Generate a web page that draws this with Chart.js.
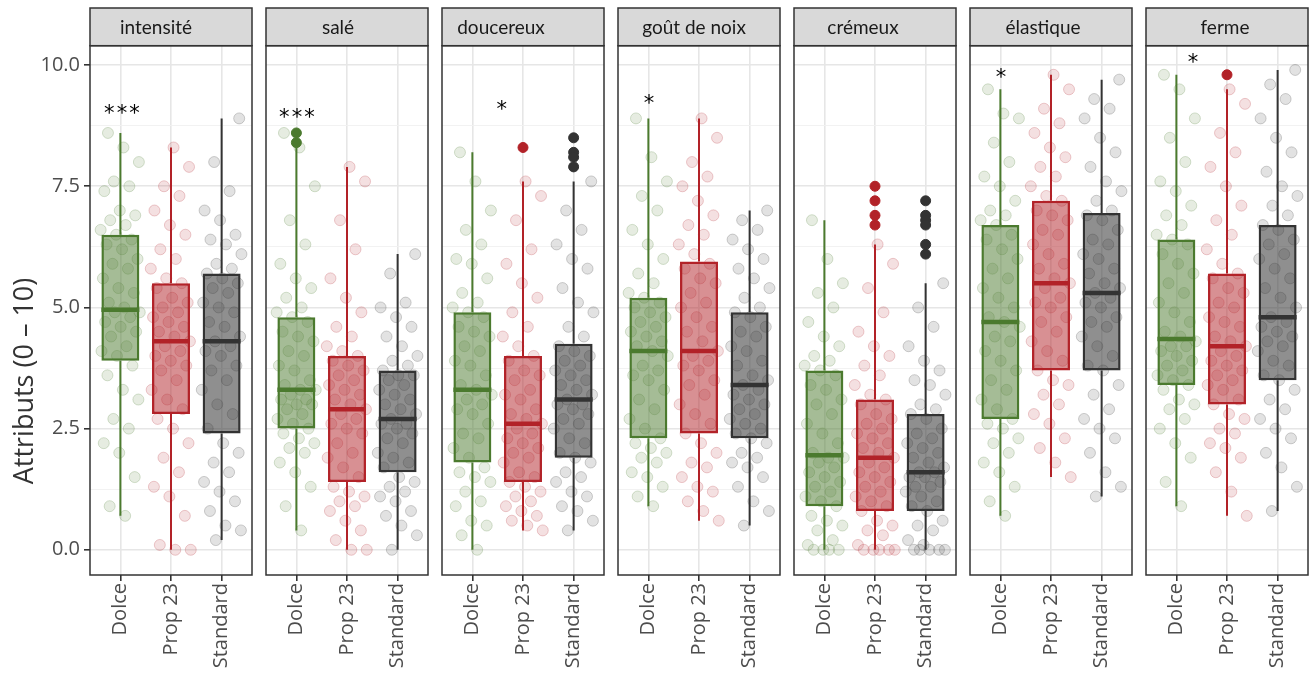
<!DOCTYPE html>
<html lang="fr">
<head>
<meta charset="utf-8">
<title>Attributs sensoriels par produit</title>
<script src="https://cdn.jsdelivr.net/npm/chart.js@4.4.1/dist/chart.umd.min.js"></script>
<style>
  html, body { margin: 0; padding: 0; background: #ffffff; }
  #board { position: relative; width: 1311px; height: 680px; overflow: hidden; background: #ffffff; }
  #board canvas { position: absolute; top: 0; }
</style>
</head>
<body>
<div id="board"></div>
<script>
// ---- data ---------------------------------------------------------------
const attributes = ['intensité', 'salé', 'doucereux', 'goût de noix', 'crémeux', 'élastique', 'ferme'];
const products = ['Dolce', 'Prop 23', 'Standard'];
const yBreaks = [0, 2.5, 5, 7.5, 10];
const yTitle = 'Attributs (0 – 10)';
const significance = ['***', '***', '*', '*', '', '*', '*'];

// box statistics, one row per attribute, one column per product
const lowerWhisker  = [[0.7, 0.0, 0.2], [0.4, 0.0, 0.0], [0.0, 0.4, 0.4], [0.9, 0.6, 0.5], [0.0, 0.0, 0.0], [0.7, 1.5, 1.1], [0.9, 0.7, 0.8]];
const firstQuartile = [[3.9, 2.8, 2.4], [2.5, 1.4, 1.6], [1.8, 1.4, 1.9], [2.3, 2.4, 2.3], [0.9, 0.8, 0.8], [2.7, 3.7, 3.7], [3.4, 3.0, 3.5]];
const medians       = [[4.95, 4.3, 4.3], [3.3, 2.9, 2.7], [3.3, 2.6, 3.1], [4.1, 4.1, 3.4], [1.95, 1.9, 1.6], [4.7, 5.5, 5.3], [4.35, 4.2, 4.8]];
const thirdQuartile = [[6.5, 5.5, 5.7], [4.8, 4.0, 3.7], [4.9, 4.0, 4.25], [5.2, 5.95, 4.9], [3.7, 3.1, 2.8], [6.7, 7.2, 6.95], [6.4, 5.7, 6.7]];
const upperWhisker  = [[8.6, 8.3, 8.9], [8.3, 7.9, 6.1], [8.2, 7.6, 7.6], [8.9, 8.9, 7.0], [6.8, 6.3, 5.5], [9.5, 9.8, 9.7], [9.8, 9.5, 9.9]];
const outliers = [
  [[], [], []],
  [[8.6, 8.4], [], []],
  [[], [8.3], [8.5, 8.2, 8.1, 7.9]],
  [[], [], []],
  [[], [7.5, 7.2, 6.9, 6.7], [7.2, 6.9, 6.8, 6.7, 6.3, 6.1]],
  [[], [], []],
  [[], [9.8], []]
];

// individual panel scores (Dolce, Prop 23, Standard)
const intensiteScores = [
  [0.7, 0.9, 1.5, 2.0, 2.2, 2.5, 2.7, 3.1, 3.3, 3.6, 3.8, 4.0, 4.1, 4.2, 4.4, 4.5, 4.6, 4.7, 4.8, 4.9, 4.9, 5.0,
   5.1, 5.3, 5.4, 5.6, 5.8, 5.9, 6.0, 6.2, 6.3, 6.4, 6.5, 6.6, 6.7, 6.8, 6.9, 7.0, 7.4, 7.5, 7.6, 8.0, 8.3, 8.6],
  [0.0, 0.0, 0.1, 0.7, 1.1, 1.3, 1.6, 1.9, 2.2, 2.5, 2.7, 2.9, 3.1, 3.3, 3.5, 3.7, 3.8, 3.9, 4.0, 4.1, 4.2, 4.3,
   4.4, 4.5, 4.6, 4.7, 4.8, 4.9, 5.0, 5.1, 5.2, 5.4, 5.5, 5.6, 5.8, 6.0, 6.2, 6.5, 6.7, 7.0, 7.3, 7.5, 7.9, 8.3],
  [0.2, 0.4, 0.5, 0.8, 1.0, 1.2, 1.4, 1.6, 1.8, 2.0, 2.2, 2.5, 2.8, 3.0, 3.3, 3.5, 3.7, 3.8, 4.0, 4.1, 4.2, 4.3,
   4.4, 4.6, 4.7, 4.9, 5.0, 5.1, 5.3, 5.4, 5.5, 5.6, 5.7, 5.8, 5.9, 6.1, 6.3, 6.4, 6.5, 6.8, 7.0, 7.4, 8.0, 8.9]
];
const saleScores = [
  [0.4, 0.9, 1.3, 1.6, 1.8, 2.0, 2.1, 2.2, 2.3, 2.4, 2.5, 2.6, 2.7, 2.8, 2.9, 3.0, 3.0, 3.1, 3.1, 3.2, 3.3, 3.3,
   3.4, 3.5, 3.7, 3.8, 4.0, 4.1, 4.3, 4.4, 4.5, 4.7, 4.8, 4.9, 5.0, 5.2, 5.4, 5.6, 5.9, 6.3, 6.8, 7.5, 8.3, 8.6],
  [0.0, 0.0, 0.2, 0.4, 0.6, 0.8, 0.9, 1.0, 1.1, 1.2, 1.3, 1.5, 1.7, 1.9, 2.0, 2.2, 2.4, 2.5, 2.6, 2.7, 2.8, 2.9,
   3.0, 3.1, 3.2, 3.3, 3.4, 3.5, 3.6, 3.7, 3.8, 3.9, 4.0, 4.1, 4.2, 4.4, 4.6, 4.9, 5.2, 5.6, 6.2, 6.8, 7.6, 7.9],
  [0.0, 0.3, 0.5, 0.7, 0.8, 1.0, 1.1, 1.2, 1.3, 1.4, 1.5, 1.7, 1.8, 1.9, 2.0, 2.2, 2.3, 2.4, 2.5, 2.6, 2.6, 2.7,
   2.8, 2.9, 3.0, 3.1, 3.2, 3.3, 3.4, 3.5, 3.6, 3.6, 3.7, 3.8, 3.9, 4.0, 4.2, 4.4, 4.6, 4.8, 5.0, 5.1, 5.7, 6.1]
];
const doucereuxScores = [
  [0.0, 0.3, 0.5, 0.6, 0.9, 1.0, 1.2, 1.4, 1.5, 1.6, 1.7, 1.9, 2.1, 2.3, 2.4, 2.6, 2.8, 2.9, 3.0, 3.1, 3.2, 3.3,
   3.4, 3.6, 3.8, 3.9, 4.1, 4.2, 4.4, 4.5, 4.6, 4.8, 4.9, 5.0, 5.1, 5.3, 5.6, 5.9, 6.0, 6.3, 6.6, 7.0, 7.6, 8.2],
  [0.4, 0.5, 0.6, 0.7, 0.8, 0.9, 1.0, 1.1, 1.2, 1.3, 1.4, 1.5, 1.6, 1.8, 1.9, 2.0, 2.1, 2.2, 2.3, 2.4, 2.5, 2.6,
   2.7, 2.8, 2.9, 3.1, 3.2, 3.3, 3.5, 3.6, 3.7, 3.9, 4.0, 4.2, 4.4, 4.6, 4.9, 5.2, 5.5, 5.9, 6.2, 6.8, 7.3, 7.6],
  [0.4, 0.6, 0.8, 0.9, 1.1, 1.2, 1.4, 1.5, 1.6, 1.8, 1.9, 2.0, 2.2, 2.3, 2.5, 2.6, 2.7, 2.8, 2.9, 3.0, 3.0, 3.1,
   3.2, 3.3, 3.4, 3.5, 3.6, 3.7, 3.8, 3.9, 4.0, 4.1, 4.2, 4.4, 4.6, 4.9, 5.1, 5.4, 5.8, 6.0, 6.3, 6.6, 7.0, 7.6]
];
const noixScores = [
  [0.9, 1.1, 1.3, 1.5, 1.6, 1.8, 1.9, 2.0, 2.1, 2.2, 2.3, 2.5, 2.7, 2.9, 3.1, 3.3, 3.5, 3.6, 3.7, 3.8, 4.0, 4.1,
   4.2, 4.3, 4.4, 4.5, 4.6, 4.7, 4.8, 4.9, 5.0, 5.1, 5.2, 5.3, 5.5, 5.7, 6.0, 6.3, 6.6, 7.0, 7.3, 7.6, 8.1, 8.9],
  [0.6, 0.8, 1.0, 1.2, 1.3, 1.5, 1.7, 1.8, 2.0, 2.2, 2.4, 2.6, 2.8, 3.0, 3.2, 3.4, 3.5, 3.7, 3.8, 3.9, 4.0, 4.1,
   4.3, 4.5, 4.6, 4.8, 5.0, 5.1, 5.3, 5.5, 5.6, 5.8, 5.9, 6.1, 6.3, 6.5, 6.7, 6.9, 7.2, 7.5, 7.7, 8.0, 8.5, 8.9],
  [0.5, 0.8, 1.0, 1.3, 1.5, 1.7, 1.8, 1.9, 2.0, 2.2, 2.3, 2.4, 2.5, 2.6, 2.7, 2.8, 2.9, 3.0, 3.1, 3.2, 3.3, 3.4,
   3.5, 3.6, 3.8, 3.9, 4.1, 4.2, 4.4, 4.5, 4.6, 4.8, 4.9, 5.0, 5.2, 5.4, 5.6, 5.8, 6.0, 6.2, 6.4, 6.6, 6.8, 7.0]
];
const cremeuxScores = [
  [0.0, 0.0, 0.0, 0.0, 0.1, 0.2, 0.4, 0.5, 0.6, 0.7, 0.9, 1.0, 1.1, 1.2, 1.3, 1.4, 1.5, 1.6, 1.7, 1.8, 1.9, 1.9,
   2.0, 2.2, 2.4, 2.6, 2.8, 3.0, 3.1, 3.3, 3.4, 3.6, 3.7, 3.8, 3.9, 4.0, 4.2, 4.4, 4.7, 5.0, 5.3, 5.5, 6.0, 6.8],
  [0.0, 0.0, 0.0, 0.0, 0.0, 0.1, 0.3, 0.4, 0.5, 0.6, 0.8, 0.9, 1.0, 1.1, 1.2, 1.3, 1.4, 1.5, 1.6, 1.7, 1.8, 1.9,
   2.0, 2.1, 2.2, 2.3, 2.4, 2.5, 2.6, 2.7, 2.8, 3.0, 3.1, 3.2, 3.4, 3.6, 3.8, 4.0, 4.2, 4.5, 4.9, 5.4, 5.9, 6.3],
  [0.0, 0.0, 0.0, 0.0, 0.0, 0.1, 0.2, 0.4, 0.5, 0.6, 0.8, 0.9, 1.0, 1.1, 1.2, 1.3, 1.3, 1.4, 1.5, 1.5, 1.6, 1.6,
   1.7, 1.8, 1.9, 2.0, 2.1, 2.2, 2.3, 2.4, 2.5, 2.7, 2.8, 2.9, 3.0, 3.2, 3.4, 3.5, 3.7, 3.9, 4.2, 4.6, 5.0, 5.5]
];
const elastiqueScores = [
  [0.7, 1.0, 1.3, 1.6, 1.8, 2.0, 2.2, 2.3, 2.5, 2.6, 2.7, 2.9, 3.1, 3.3, 3.5, 3.7, 3.9, 4.1, 4.3, 4.4, 4.6, 4.7,
   4.8, 5.0, 5.2, 5.4, 5.6, 5.8, 6.0, 6.2, 6.4, 6.5, 6.7, 6.8, 6.9, 7.0, 7.2, 7.5, 7.7, 8.0, 8.4, 8.9, 9.0, 9.5],
  [1.5, 1.8, 2.1, 2.3, 2.6, 2.8, 3.0, 3.2, 3.4, 3.5, 3.7, 3.9, 4.1, 4.3, 4.5, 4.7, 4.8, 5.0, 5.1, 5.2, 5.4, 5.5,
   5.6, 5.8, 5.9, 6.1, 6.3, 6.5, 6.6, 6.8, 6.9, 7.0, 7.2, 7.3, 7.5, 7.7, 7.9, 8.1, 8.3, 8.6, 8.8, 9.1, 9.5, 9.8],
  [1.1, 1.3, 1.6, 2.0, 2.3, 2.5, 2.7, 2.9, 3.2, 3.4, 3.7, 3.8, 4.0, 4.2, 4.4, 4.6, 4.7, 4.8, 5.0, 5.1, 5.2, 5.3,
   5.4, 5.5, 5.7, 5.8, 6.0, 6.1, 6.3, 6.4, 6.6, 6.8, 6.9, 7.0, 7.2, 7.4, 7.6, 7.9, 8.2, 8.5, 8.9, 9.1, 9.3, 9.7]
];
const fermeScores = [
  [0.9, 1.4, 1.9, 2.2, 2.5, 2.7, 2.9, 3.0, 3.1, 3.3, 3.4, 3.5, 3.6, 3.7, 3.8, 3.9, 4.0, 4.1, 4.2, 4.2, 4.3, 4.4,
   4.5, 4.7, 4.9, 5.1, 5.3, 5.5, 5.7, 5.9, 6.1, 6.3, 6.4, 6.5, 6.7, 6.9, 7.1, 7.4, 7.6, 8.0, 8.5, 8.9, 9.5, 9.8],
  [0.7, 1.2, 1.6, 1.9, 2.1, 2.2, 2.4, 2.5, 2.7, 2.8, 3.0, 3.1, 3.3, 3.4, 3.5, 3.6, 3.7, 3.8, 3.9, 4.0, 4.1, 4.2,
   4.3, 4.4, 4.6, 4.7, 4.8, 5.0, 5.1, 5.3, 5.4, 5.6, 5.7, 5.9, 6.2, 6.5, 6.8, 7.1, 7.5, 7.9, 8.2, 8.6, 9.2, 9.5],
  [0.8, 1.3, 1.7, 2.0, 2.3, 2.5, 2.7, 2.9, 3.1, 3.3, 3.5, 3.6, 3.8, 3.9, 4.1, 4.2, 4.3, 4.4, 4.5, 4.6, 4.7, 4.8,
   5.0, 5.2, 5.4, 5.6, 5.8, 6.0, 6.1, 6.3, 6.4, 6.6, 6.7, 6.9, 7.1, 7.3, 7.5, 7.8, 8.2, 8.5, 8.9, 9.3, 9.6, 9.9]
];
const scoreSets = [intensiteScores, saleScores, doucereuxScores, noixScores, cremeuxScores, elastiqueScores, fermeScores];

// ---- layout & style -----------------------------------------------------
const PANEL_W = 162, PANEL_STEP = 176, FIRST_LEFT = 90, MARGIN = 12;
const STRIP_TOP = 8, PLOT_TOP = 45.7, PLOT_BOTTOM = 575, H = 680;
const productRGB = [[75, 122, 46], [178, 34, 40], [51, 51, 51]];
const rgba = (k, a) => `rgba(${productRGB[k][0]},${productRGB[k][1]},${productRGB[k][2]},${a})`;
const BOX_HALF = 0.375;                 // boxes are 0.75 category wide
const JITTER = 0.8;                     // horizontal spread of the individual scores
const jitterOffset = (i, k) => ((((i + 1) * 0.6180339887 + k * 0.37) % 1) - 0.5) * JITTER;
const stripShift = [-15, -9, -22, -5, -12, -8, -2];
const starAnchors = [[1.03, 9.12], [1.01, 9.04], [1.58, 9.2], [1.01, 9.33], null, [1.01, 9.87], [1.33, 10.17]];
const TITLE_CENTER_Y = 381, TITLE_BASELINE_X = 33;
const MAJOR_GRID = '#e6e6e6', MINOR_GRID = '#f1f1f1', INK = '#333333', TICK_TEXT = '#4d4d4d';

const yGrid = [];
yBreaks.forEach((b, i) => { yGrid.push(b); if (i < yBreaks.length - 1) yGrid.push((b + yBreaks[i + 1]) / 2); });
const isMajor = v => yBreaks.some(b => Math.abs(b - v) < 1e-9);

// strip header, panel frame, y title and significance marks
const facetDecor = {
  id: 'facetDecor',
  afterDatasetsDraw(chart, args, opts) {
    if (!opts.stars || !opts.anchor) return;
    const { ctx, scales: { x, y } } = chart;
    const cx = x.getPixelForValue(opts.anchor[0]);
    const cy = y.getPixelForValue(opts.anchor[1]);
    const size = 21, step = 12.7;
    ctx.save();
    ctx.font = `${size}px "DejaVu Sans"`;
    ctx.fillStyle = '#000000';
    ctx.textAlign = 'center';
    ctx.textBaseline = 'alphabetic';
    const n = opts.stars.length;
    for (let j = 0; j < n; j++) {
      ctx.fillText(opts.stars[j], cx + (j - (n - 1) / 2) * step, cy + size * 0.6);
    }
    ctx.restore();
  },
  afterDraw(chart, args, opts) {
    const { ctx, chartArea: a } = chart;
    const w = a.right - a.left;
    ctx.save();
    ctx.lineWidth = 1.5;
    ctx.strokeStyle = INK;
    ctx.strokeRect(a.left, a.top, w, a.bottom - a.top);
    ctx.fillStyle = '#d9d9d9';
    ctx.fillRect(a.left, STRIP_TOP, w, a.top - STRIP_TOP);
    ctx.strokeRect(a.left, STRIP_TOP, w, a.top - STRIP_TOP);
    ctx.font = '19px Lato';
    ctx.fillStyle = '#1a1a1a';
    ctx.textAlign = 'center';
    ctx.textBaseline = 'middle';
    ctx.fillText(opts.label, a.left + w / 2 + opts.shift, (STRIP_TOP + a.top) / 2 + 1);
    if (opts.title) {
      ctx.translate(TITLE_BASELINE_X, TITLE_CENTER_Y);
      ctx.rotate(-Math.PI / 2);
      ctx.font = '27px "Open Sans"';
      ctx.fillStyle = INK;
      ctx.textBaseline = 'alphabetic';
      ctx.fillText(opts.title, 0, 0);
    }
    ctx.restore();
  }
};

function buildPanel(p) {
  const first = p === 0;
  const canvas = document.createElement('canvas');
  const left = first ? 0 : FIRST_LEFT + PANEL_STEP * p - MARGIN;
  const width = first ? FIRST_LEFT + PANEL_W + MARGIN : PANEL_W + 2 * MARGIN;
  canvas.width = width;
  canvas.height = H;
  canvas.style.left = left + 'px';
  canvas.style.width = width + 'px';
  canvas.style.height = H + 'px';
  document.getElementById('board').appendChild(canvas);

  const scores = scoreSets[p];
  const jitterPts = [], jitterFill = [], jitterLine = [];
  scores.forEach((vals, k) => vals.forEach((v, i) => {
    jitterPts.push({ x: k + 1 + jitterOffset(i, k), y: v });
    jitterFill.push(rgba(k, 0.14));
    jitterLine.push(rgba(k, 0.22));
  }));

  const outPts = [], outColors = [];
  outliers[p].forEach((vals, k) => vals.forEach(v => { outPts.push({ x: k + 1, y: v }); outColors.push(rgba(k, 1)); }));

  const datasets = [
    {
      type: 'scatter', data: jitterPts, order: 6,
      pointRadius: 5.5, pointBackgroundColor: jitterFill, pointBorderColor: jitterLine, pointBorderWidth: 1
    },
    {
      type: 'bar', order: 5,
      data: products.map((_, k) => ({ x: k + 1, y: [firstQuartile[p][k], thirdQuartile[p][k]] })),
      backgroundColor: products.map((_, k) => rgba(k, k === 2 ? 0.55 : 0.5)),
      borderColor: products.map((_, k) => rgba(k, 1)),
      borderWidth: 2.5, borderSkipped: false, barPercentage: BOX_HALF * 2, categoryPercentage: 1, grouped: false
    }
  ];
  products.forEach((_, k) => {
    datasets.push({
      type: 'line', order: 4, showLine: true, spanGaps: false, pointRadius: 0, fill: false,
      borderColor: rgba(k, 1), borderWidth: 2,
      data: [
        { x: k + 1, y: lowerWhisker[p][k] }, { x: k + 1, y: firstQuartile[p][k] }, { x: k + 1, y: null },
        { x: k + 1, y: thirdQuartile[p][k] }, { x: k + 1, y: upperWhisker[p][k] }
      ]
    });
    datasets.push({
      type: 'line', order: 3, showLine: true, pointRadius: 0, fill: false,
      borderColor: rgba(k, 1), borderWidth: 4.5, borderCapStyle: 'butt',
      data: [{ x: k + 1 - BOX_HALF, y: medians[p][k] }, { x: k + 1 + BOX_HALF, y: medians[p][k] }]
    });
  });
  datasets.push({
    type: 'scatter', data: outPts, order: 1,
    pointRadius: 5, pointBackgroundColor: outColors, pointBorderColor: outColors, pointBorderWidth: 1
  });

  return new Chart(canvas, {
    type: 'scatter',
    data: { datasets },
    plugins: [facetDecor],
    options: {
      responsive: false, animation: false, devicePixelRatio: 1,
      layout: { padding: { top: PLOT_TOP, left: first ? 0 : MARGIN, right: MARGIN, bottom: 0 } },
      plugins: {
        legend: { display: false }, tooltip: { enabled: false },
        facetDecor: {
          label: attributes[p], shift: stripShift[p], stars: significance[p], anchor: starAnchors[p],
          title: first ? yTitle : ''
        }
      },
      scales: {
        x: {
          type: 'linear', min: 0.4, max: 3.6, offset: false,
          afterBuildTicks: s => { s.ticks = products.map((_, k) => ({ value: k + 1 })); },
          afterFit: s => { s.height = H - PLOT_BOTTOM; },
          ticks: {
            callback: v => products[Math.round(v) - 1], autoSkip: false,
            minRotation: 90, maxRotation: 90, padding: 2,
            font: { family: 'Open Sans', size: 20 }, color: TICK_TEXT
          },
          grid: { color: MAJOR_GRID, lineWidth: 1.6, tickColor: INK, tickLength: 6, drawTicks: true, offset: false },
          border: { display: false }
        },
        y: {
          type: 'linear', min: -0.52, max: 10.4,
          afterBuildTicks: s => { s.ticks = yGrid.map(v => ({ value: v })); },
          afterFit: s => { s.width = first ? FIRST_LEFT : 0; },
          ticks: {
            display: first, padding: 4,
            callback: v => (isMajor(v) ? v.toFixed(1) : ''),
            font: { family: 'Open Sans', size: 20 }, color: TICK_TEXT
          },
          grid: {
            color: c => (c.tick && isMajor(c.tick.value) ? MAJOR_GRID : MINOR_GRID),
            lineWidth: c => (c.tick && isMajor(c.tick.value) ? 1.6 : 0.9),
            tickColor: c => (c.tick && isMajor(c.tick.value) ? INK : 'rgba(0,0,0,0)'),
            tickLength: 6, drawTicks: first
          },
          title: { display: false },
          border: { display: false }
        }
      }
    }
  });
}

const fontsReady = document.fonts
  ? Promise.all(['20px "Open Sans"', '27px "Open Sans"', '19px Lato', '21px "DejaVu Sans"'].map(f => document.fonts.load(f))).catch(() => null)
  : Promise.resolve();
fontsReady.then(() => attributes.forEach((_, p) => buildPanel(p)));
</script>
</body>
</html>
